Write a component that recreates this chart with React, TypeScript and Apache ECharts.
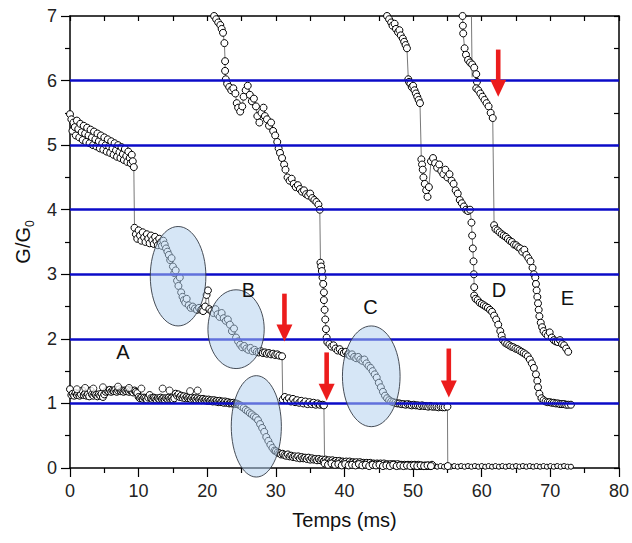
import React, { useEffect, useRef } from "react";
import * as echarts from "echarts";

// ---------- data (Temps in ms, G/G0) ----------
const traceA1: number[][] = [
  [0, 5.48], [0.2, 5.4], [0.35, 5.22], [0.5, 5.35], [0.7, 5.28], [0.85, 5.15], [1.0, 5.38], [1.2, 5.25], [1.35, 5.12], [1.5, 5.33],
  [1.7, 5.2], [1.85, 5.08], [2.0, 5.3], [2.2, 5.18], [2.35, 5.05], [2.5, 5.27], [2.7, 5.15], [2.85, 5.03], [3.0, 5.24], [3.2, 5.12],
  [3.35, 5.0], [3.5, 5.21], [3.7, 5.09], [3.85, 4.98], [4.0, 5.18], [4.2, 5.06], [4.35, 4.95], [4.5, 5.15], [4.7, 5.03], [4.85, 4.93],
  [5.0, 5.12], [5.2, 5.0], [5.35, 4.9], [5.5, 5.09], [5.7, 4.98], [5.85, 4.88], [6.0, 5.06], [6.2, 4.95], [6.35, 4.85], [6.5, 5.03],
  [6.7, 4.92], [6.85, 4.82], [7.0, 5.0], [7.2, 4.89], [7.35, 4.8], [7.5, 4.97], [7.7, 4.86], [7.85, 4.77], [8.0, 4.94], [8.2, 4.83],
  [8.35, 4.74], [8.5, 4.9], [8.7, 4.8], [8.85, 4.72], [9.0, 4.85], [9.15, 4.75], [9.3, 4.66],
  [9.4, 3.72], [9.6, 3.62], [9.8, 3.55], [10.0, 3.68], [10.2, 3.6], [10.4, 3.52], [10.6, 3.65], [10.8, 3.57], [11.0, 3.5], [11.2, 3.62],
  [11.4, 3.55], [11.6, 3.48], [11.8, 3.6], [12.0, 3.53], [12.2, 3.47], [12.4, 3.58], [12.6, 3.51], [12.8, 3.45], [13.0, 3.55], [13.2, 3.49],
  [13.4, 3.44], [13.6, 3.52], [13.8, 3.46], [14.0, 3.4], [14.2, 3.35], [14.4, 3.3], [14.6, 3.22], [14.8, 3.25], [15.0, 3.12], [15.2, 3.02],
  [15.4, 3.06], [15.6, 2.9], [15.8, 2.82], [16.0, 2.95], [16.2, 2.72], [16.4, 2.65], [16.6, 2.6], [16.8, 2.56], [17.0, 2.62], [17.3, 2.52],
  [17.6, 2.48], [17.9, 2.5], [18.2, 2.47], [18.5, 2.45], [18.8, 2.48], [19.1, 2.45], [19.4, 2.43], [19.7, 2.5], [19.9, 2.68], [20.1, 2.75],
  [20.3, 2.46], [20.6, 2.43], [20.9, 2.4], [21.2, 2.46], [21.5, 2.38], [21.8, 2.34], [22.1, 2.4], [22.4, 2.32], [22.7, 2.28], [23.0, 2.3],
  [23.3, 2.22], [23.6, 2.12], [23.9, 2.16], [24.2, 2.02], [24.5, 1.96], [24.8, 1.91], [25.1, 1.87], [25.4, 1.89], [25.7, 1.85], [26.0, 1.83],
  [26.3, 1.86], [26.6, 1.81], [26.9, 1.83], [27.2, 1.8], [27.5, 1.79], [27.8, 1.81], [28.1, 1.78], [28.4, 1.79], [28.7, 1.77], [29.0, 1.78],
  [29.3, 1.76], [29.6, 1.77], [29.9, 1.75], [30.2, 1.76], [30.5, 1.74], [30.9, 1.73],
  [31.0, 1.06], [31.3, 1.1], [31.6, 1.05], [31.9, 1.08], [32.2, 1.03], [32.5, 1.07], [32.8, 1.02], [33.1, 1.05], [33.4, 1.01], [33.7, 1.04],
  [34.0, 1.0], [34.3, 1.03], [34.6, 0.99], [34.9, 1.02], [35.2, 0.99], [35.5, 1.01], [35.8, 0.98], [36.1, 1.0], [36.4, 0.98], [36.8, 0.98], [37.0, 0.97],
  [37.1, 0.07], [37.6, 0.05], [38.1, 0.07], [38.6, 0.05], [39.1, 0.06], [39.6, 0.04], [40.1, 0.06], [40.6, 0.04], [41.1, 0.05], [41.6, 0.04],
  [42.1, 0.06], [42.6, 0.04], [43.1, 0.05], [43.6, 0.03], [44.1, 0.05], [44.6, 0.04], [45.1, 0.05], [45.6, 0.03], [46.1, 0.04], [46.6, 0.03],
  [47.1, 0.05], [47.6, 0.03], [48.1, 0.04], [48.6, 0.03], [49.1, 0.04], [49.6, 0.03], [50.1, 0.04], [50.6, 0.03], [51.1, 0.04], [51.6, 0.03],
  [52.1, 0.04], [52.6, 0.03],
];

const traceA2: number[][] = [
  [0, 1.22], [0.2, 1.13], [0.4, 1.15], [0.6, 1.12], [0.8, 1.16], [1.0, 1.13], [1.2, 1.15], [1.4, 1.12], [1.6, 1.14], [1.8, 1.2],
  [2.0, 1.13], [2.2, 1.15], [2.4, 1.12], [2.6, 1.14], [2.8, 1.11], [3.0, 1.2], [3.2, 1.14], [3.4, 1.12], [3.6, 1.15], [3.8, 1.13],
  [4.0, 1.11], [4.2, 1.14], [4.4, 1.12], [4.6, 1.15], [4.8, 1.1], [5.0, 1.14],
  [5.2, 1.18], [5.4, 1.2], [5.6, 1.19], [5.8, 1.21], [6.0, 1.18], [6.2, 1.2], [6.4, 1.19], [6.6, 1.21], [6.8, 1.18], [7.0, 1.2],
  [7.2, 1.22], [7.4, 1.19], [7.6, 1.2], [7.8, 1.18], [8.0, 1.2], [8.2, 1.19], [8.4, 1.21], [8.6, 1.18], [8.8, 1.2], [9.0, 1.19],
  [9.2, 1.17], [9.4, 1.2], [9.6, 1.18], [9.8, 1.16],
  [10.0, 1.1], [10.2, 1.08], [10.4, 1.09], [10.6, 1.07], [10.8, 1.09], [11.0, 1.08], [11.2, 1.06], [11.4, 1.09], [11.6, 1.13], [11.8, 1.08],
  [12.0, 1.07], [12.2, 1.09], [12.4, 1.08], [12.6, 1.06], [12.8, 1.08], [13.0, 1.07], [13.2, 1.09], [13.4, 1.07], [13.6, 1.08], [13.8, 1.06],
  [14.0, 1.08], [14.2, 1.07], [14.4, 1.09], [14.6, 1.07], [14.8, 1.08], [15.0, 1.06], [15.2, 1.08],
  [15.4, 1.15], [15.6, 1.12], [15.8, 1.14], [16.0, 1.1], [16.2, 1.12], [16.4, 1.09], [16.6, 1.11], [16.8, 1.08], [17.0, 1.1], [17.2, 1.08],
  [17.4, 1.09], [17.6, 1.07], [17.8, 1.09], [18.0, 1.07], [18.2, 1.08], [18.4, 1.06], [18.6, 1.08], [18.8, 1.06], [19.0, 1.07], [19.2, 1.05],
  [19.4, 1.07], [19.6, 1.05], [19.8, 1.06], [20.0, 1.04], [20.2, 1.06], [20.4, 1.04], [20.6, 1.05], [20.8, 1.03], [21.0, 1.05], [21.2, 1.03],
  [21.4, 1.04], [21.6, 1.02], [21.8, 1.04], [22.0, 1.02], [22.2, 1.03], [22.4, 1.01], [22.6, 1.03], [22.8, 1.01], [23.0, 1.02], [23.2, 1.0],
  [23.4, 1.01], [23.6, 1.0], [23.8, 1.01], [24.0, 0.99], [24.2, 1.0], [24.4, 0.99], [24.6, 0.98], [24.8, 0.97],
  [25.0, 0.95], [25.3, 0.93], [25.6, 0.9], [25.9, 0.88], [26.2, 0.85], [26.5, 0.83], [26.8, 0.8], [27.1, 0.78], [27.4, 0.74], [27.7, 0.68],
  [28.0, 0.62], [28.3, 0.56], [28.6, 0.48], [28.9, 0.42], [29.2, 0.36], [29.5, 0.31], [29.8, 0.27],
  [30.0, 0.26], [30.25, 0.24], [30.5, 0.23], [30.75, 0.21], [31.0, 0.22], [31.25, 0.2], [31.5, 0.19], [31.75, 0.21], [32.0, 0.18], [32.25, 0.19],
  [32.5, 0.17], [32.75, 0.18], [33.0, 0.16], [33.25, 0.18], [33.5, 0.15], [33.75, 0.17], [34.0, 0.15], [34.25, 0.16], [34.5, 0.14], [34.75, 0.16],
  [35.0, 0.13], [35.25, 0.15], [35.5, 0.13], [35.75, 0.14], [36.0, 0.12], [36.25, 0.14], [36.5, 0.12], [36.75, 0.13], [37.0, 0.11], [37.25, 0.13],
  [37.5, 0.11], [37.75, 0.12], [38.0, 0.1], [38.25, 0.12], [38.5, 0.1], [38.75, 0.11], [39.0, 0.09], [39.25, 0.11], [39.5, 0.09], [39.75, 0.1],
  [40.0, 0.09], [40.25, 0.1], [40.5, 0.08], [40.75, 0.1], [41.0, 0.08], [41.25, 0.09], [41.5, 0.08], [41.75, 0.09], [42.0, 0.07], [42.25, 0.09],
  [42.5, 0.07], [42.75, 0.08], [43.0, 0.07], [43.25, 0.08], [43.5, 0.06], [43.75, 0.08], [44.0, 0.06], [44.25, 0.07], [44.5, 0.06], [44.75, 0.07],
  [45.0, 0.06], [45.25, 0.07], [45.5, 0.05], [45.75, 0.07], [46.0, 0.05], [46.25, 0.06], [46.5, 0.05], [46.75, 0.06], [47.0, 0.05], [47.25, 0.06],
  [47.5, 0.04], [47.75, 0.06], [48.0, 0.04], [48.25, 0.05], [48.5, 0.04], [48.75, 0.05], [49.0, 0.04], [49.25, 0.05], [49.5, 0.04], [49.75, 0.05],
  [50.0, 0.03], [50.25, 0.05], [50.5, 0.03], [50.75, 0.05], [51.0, 0.03], [51.25, 0.04], [51.5, 0.03], [51.75, 0.04], [52.0, 0.03], [52.25, 0.04],
  [52.5, 0.03], [52.75, 0.05],
];

// isolated open circles floating just above the first plateau
const outliersA2: number[][] = [
  [1.0, 1.22], [2.2, 1.24], [3.4, 1.23], [4.8, 1.25], [7.0, 1.26], [8.6, 1.24], [10.4, 1.23], [13.5, 1.23], [14.5, 1.2], [17.5, 1.19], [18.6, 1.2],
];

const traceC1: number[][] = [
  [21.0, 7.0], [21.3, 6.95], [21.6, 6.9], [21.9, 6.86], [22.1, 6.8], [22.3, 6.74], [22.5, 6.58], [22.6, 6.3], [22.6, 6.15], [22.7, 6.02],
  [22.9, 5.95], [23.2, 5.9], [23.5, 5.85], [23.8, 5.88], [24.1, 5.8], [24.3, 5.65], [24.5, 5.58], [24.8, 5.52], [25.1, 5.6], [25.3, 5.75],
  [25.6, 5.85], [25.9, 5.92], [26.2, 5.78], [26.5, 5.68], [26.8, 5.72], [27.1, 5.6], [27.3, 5.45], [27.6, 5.35], [27.9, 5.5], [28.2, 5.58],
  [28.4, 5.45], [28.7, 5.4], [29.0, 5.3], [29.3, 5.35], [29.6, 5.22], [29.9, 5.15], [30.2, 5.05], [30.4, 4.95], [30.6, 4.88], [30.9, 4.8],
  [31.2, 4.7], [31.4, 4.62], [31.7, 4.5], [32.0, 4.45], [32.3, 4.48], [32.6, 4.4], [32.9, 4.35], [33.2, 4.38], [33.5, 4.32], [33.8, 4.28],
  [34.1, 4.3], [34.4, 4.24], [34.7, 4.22], [35.0, 4.25], [35.3, 4.18], [35.6, 4.15], [35.9, 4.12], [36.2, 4.08], [36.4, 4.0],
  [36.5, 3.18], [36.6, 3.12], [36.7, 3.05], [36.8, 2.95], [36.9, 2.85], [37.0, 2.72], [37.0, 2.6], [37.1, 2.45], [37.2, 2.3], [37.3, 2.15],
  [37.4, 2.02], [37.5, 1.95], [37.8, 1.92], [38.1, 1.88], [38.4, 1.9], [38.7, 1.85], [39.0, 1.82], [39.3, 1.84], [39.6, 1.8], [39.9, 1.78],
  [40.2, 1.8], [40.5, 1.76], [40.8, 1.74], [41.1, 1.76], [41.4, 1.72], [41.7, 1.7], [42.0, 1.72], [42.3, 1.68], [42.6, 1.66], [42.9, 1.68],
  [43.2, 1.62], [43.5, 1.58], [43.8, 1.55], [44.1, 1.5], [44.4, 1.45], [44.7, 1.4], [45.0, 1.32], [45.3, 1.25], [45.6, 1.18], [45.9, 1.12],
  [46.2, 1.08], [46.5, 1.05], [46.8, 1.03], [47.1, 1.02], [47.4, 1.01], [47.7, 1.0], [48.0, 1.0], [48.3, 0.99], [48.6, 0.99], [48.9, 0.98],
  [49.2, 0.99], [49.5, 0.98], [49.8, 0.97], [50.1, 0.98], [50.4, 0.97], [50.7, 0.97], [51.0, 0.96], [51.3, 0.97], [51.6, 0.96], [51.9, 0.96],
  [52.2, 0.95], [52.5, 0.96], [52.8, 0.95], [53.1, 0.95], [53.4, 0.95], [53.7, 0.94], [54.0, 0.95], [54.3, 0.94], [54.6, 0.94], [55.0, 0.95],
  [55.05, 0.03],
];

const traceD1: number[][] = [
  [46.2, 7.0], [46.5, 6.95], [46.8, 6.9], [47.0, 6.85], [47.3, 6.88], [47.5, 6.8], [47.8, 6.75], [48.0, 6.78], [48.2, 6.7], [48.5, 6.65],
  [48.7, 6.6], [48.9, 6.55], [49.1, 6.5],
  [49.3, 6.02], [49.4, 5.98], [49.6, 5.95], [49.8, 5.9], [50.0, 5.92], [50.2, 5.85], [50.4, 5.8], [50.6, 5.75], [50.8, 5.7], [51.0, 5.65],
  [51.2, 4.78], [51.3, 4.7], [51.4, 4.62], [51.5, 4.5], [51.7, 4.4], [51.9, 4.3], [52.1, 4.2], [52.3, 4.35], [52.6, 4.75], [52.9, 4.8],
  [53.2, 4.72], [53.5, 4.65], [53.8, 4.7], [54.1, 4.6], [54.4, 4.55], [54.7, 4.62], [55.0, 4.5], [55.3, 4.55], [55.6, 4.45], [55.9, 4.4],
  [56.2, 4.3], [56.5, 4.25], [56.8, 4.15], [57.1, 4.1], [57.4, 4.05], [57.7, 4.0], [58.0, 3.98], [58.3, 4.0], [58.5, 3.8], [58.6, 3.6],
  [58.7, 3.4], [58.8, 3.2], [58.85, 3.0], [58.9, 2.8], [58.9, 2.67],
  [59.1, 2.62], [59.4, 2.6], [59.7, 2.56], [60.0, 2.54], [60.3, 2.52], [60.6, 2.5], [60.9, 2.48], [61.2, 2.45], [61.5, 2.42], [61.8, 2.36],
  [62.1, 2.3], [62.4, 2.22], [62.7, 2.12], [62.9, 2.05], [63.1, 1.98], [63.4, 1.94], [63.7, 1.92], [64.0, 1.9], [64.3, 1.88], [64.6, 1.87],
  [64.9, 1.85], [65.2, 1.84], [65.5, 1.82], [65.8, 1.8], [66.1, 1.78], [66.4, 1.76], [66.7, 1.73], [67.0, 1.68], [67.3, 1.62], [67.6, 1.55],
  [67.9, 1.45], [68.1, 1.35], [68.2, 1.25], [68.4, 1.15], [68.7, 1.08], [69.0, 1.05], [69.3, 1.03], [69.6, 1.02], [69.9, 1.02], [70.2, 1.01],
  [70.5, 1.01], [70.8, 1.0], [71.1, 1.0], [71.4, 0.99], [71.7, 0.99], [72.0, 0.99], [72.3, 0.98], [72.6, 0.98], [73.0, 0.98],
];

const traceE1: number[][] = [
  [57.2, 7.0], [57.25, 6.85], [57.3, 6.73], [57.5, 6.5], [57.7, 6.4], [58.0, 6.32], [58.3, 6.28], [58.6, 6.25], [58.9, 6.2], [59.2, 6.1],
  [59.3, 5.98], [59.2, 5.88], [59.5, 5.85], [59.8, 5.8], [60.1, 5.75], [60.4, 5.7], [60.7, 5.65], [61.0, 5.6], [61.3, 5.5], [61.6, 5.42],
  [61.8, 3.76], [62.0, 3.7], [62.3, 3.68], [62.6, 3.65], [62.9, 3.62], [63.2, 3.6], [63.5, 3.58], [63.8, 3.55], [64.1, 3.52], [64.4, 3.5],
  [64.7, 3.46], [65.0, 3.45], [65.3, 3.42], [65.6, 3.4], [65.9, 3.35], [66.2, 3.38], [66.5, 3.3], [66.8, 3.25], [67.1, 3.2], [67.4, 3.1],
  [67.6, 3.0], [67.8, 2.95], [67.9, 2.85], [68.0, 2.75], [68.1, 2.65], [68.2, 2.55], [68.3, 2.45], [68.4, 2.35], [68.6, 2.25], [68.8, 2.18],
  [69.0, 2.12], [69.3, 2.08], [69.6, 2.05], [69.9, 2.1], [70.2, 2.02], [70.5, 1.98], [70.8, 1.96], [71.1, 1.95], [71.4, 1.98], [71.7, 1.92],
  [72.0, 1.9], [72.3, 1.85], [72.6, 1.8],
];

const traceTopLine: number[][] = [[58.5, 7.0], [58.6, 6.05]];

const traceTail: number[][] = [
  [53.0, 0.04], [53.5, 0.02], [54.0, 0.03], [54.5, 0.02], [55.0, 0.03], [55.5, 0.02], [56.0, 0.03], [56.5, 0.02], [57.0, 0.03], [57.5, 0.02],
  [58.0, 0.03], [58.5, 0.02], [59.0, 0.03], [59.5, 0.02], [60.0, 0.03], [60.5, 0.02], [61.0, 0.03], [61.5, 0.02], [62.0, 0.03], [62.5, 0.02],
  [63.0, 0.03], [63.5, 0.02], [64.0, 0.03], [64.5, 0.02], [65.0, 0.03], [65.5, 0.02], [66.0, 0.03], [66.5, 0.02], [67.0, 0.03], [67.5, 0.02],
  [68.0, 0.03], [68.5, 0.02], [69.0, 0.03], [69.5, 0.02], [70.0, 0.03], [70.5, 0.02], [71.0, 0.03], [71.5, 0.02], [72.0, 0.03], [72.5, 0.02],
  [73.0, 0.02],
];

// horizontal quantised-conductance levels
const blueLevels: number[] = [1, 2, 3, 4, 5, 6];

// annotations: ellipses [cx, cy, rx, ry], arrows [x, yTop, yTip], letters [text, x, y]
const ellipses: number[][] = [
  [15.75, 2.97, 4.05, 0.77],
  [24.2, 2.15, 4.1, 0.61],
  [27.15, 0.645, 3.65, 0.785],
  [43.9, 1.42, 4.2, 0.78],
];
const arrows: number[][] = [
  [31.25, 2.7, 1.96],
  [37.4, 1.79, 1.04],
  [55.2, 1.85, 1.09],
  [62.4, 6.48, 5.75],
];
const letters: (string | number)[][] = [
  ["A", 7.7, 1.79],
  ["B", 26.0, 2.75],
  ["C", 43.8, 2.5],
  ["D", 62.5, 2.76],
  ["E", 72.5, 2.64],
];

const xMin = 0, xMax = 80, xStep = 10;
const yMin = 0, yMax = 7, yStep = 1;

const FONT = "Arial, 'Liberation Sans', sans-serif";

export default function App() {
  const ref = useRef<HTMLDivElement>(null);

  useEffect(() => {
    const chart = echarts.init(ref.current!, null, { renderer: "svg" });

    const pointSeries = (data: number[][], size = 7) => ({
      type: "line",
      data,
      symbol: "circle",
      symbolSize: size,
      showSymbol: true,
      itemStyle: { color: "#ffffff", borderColor: "#000000", borderWidth: 1 },
      lineStyle: { color: "#555555", width: 0.8 },
      emphasis: { disabled: true },
      silent: true,
      z: 3,
    });

    const option: any = {
      animation: false,
      backgroundColor: "#ffffff",
      grid: { left: 70, right: 8, top: 16, bottom: 75 },
      xAxis: [
        {
          type: "value",
          min: xMin,
          max: xMax,
          interval: xStep,
          name: "Temps (ms)",
          nameLocation: "middle",
          nameGap: 42,
          nameTextStyle: { fontSize: 20, color: "#111", fontFamily: FONT },
          axisLine: { show: true, onZero: false, lineStyle: { color: "#000", width: 1.5 } },
          axisTick: { show: true, inside: false, length: 9, lineStyle: { color: "#000", width: 1.2 } },
          minorTick: { show: true, splitNumber: 2, length: 5, lineStyle: { color: "#000", width: 1.2 } },
          axisLabel: { fontSize: 18, color: "#222", fontFamily: FONT, margin: 14 },
          splitLine: { show: false },
        },
        {
          type: "value",
          position: "top",
          min: xMin,
          max: xMax,
          interval: 5,
          axisLine: { show: true, onZero: false, lineStyle: { color: "#000", width: 1.5 } },
          axisTick: { show: true, inside: true, length: 5, lineStyle: { color: "#000", width: 1.2 } },
          axisLabel: { show: false },
          splitLine: { show: false },
        },
      ],
      yAxis: [
        {
          type: "value",
          min: yMin,
          max: yMax,
          interval: yStep,
          name: "G/G{sub|0}",
          nameLocation: "middle",
          nameGap: 33,
          nameTextStyle: {
            fontSize: 20,
            color: "#111",
            fontFamily: FONT,
            rich: { sub: { fontSize: 12, color: "#111", fontFamily: FONT, padding: [14, 0, 0, 0] } },
          },
          axisLine: { show: true, onZero: false, lineStyle: { color: "#000", width: 1.5 } },
          axisTick: { show: true, inside: false, length: 9, lineStyle: { color: "#000", width: 1.2 } },
          minorTick: { show: true, splitNumber: 2, length: 5, lineStyle: { color: "#000", width: 1.2 } },
          axisLabel: { fontSize: 18, color: "#222", fontFamily: FONT, margin: 13 },
          splitLine: { show: false },
        },
        {
          type: "value",
          position: "right",
          min: yMin,
          max: yMax,
          interval: 0.5,
          axisLine: { show: true, onZero: false, lineStyle: { color: "#000", width: 1.5 } },
          axisTick: { show: true, inside: true, length: 5, lineStyle: { color: "#000", width: 1.2 } },
          axisLabel: { show: false },
          splitLine: { show: false },
        },
      ],
      series: [
        {
          type: "line",
          data: [],
          silent: true,
          z: 1,
          markLine: {
            silent: true,
            symbol: ["none", "none"],
            label: { show: false },
            lineStyle: { color: "#0b0bc8", width: 2.6, type: "solid" },
            emphasis: { disabled: true },
            data: blueLevels.map((v) => ({ yAxis: v })),
          },
        },
        {
          type: "line",
          data: traceTopLine,
          showSymbol: false,
          symbol: "none",
          lineStyle: { color: "#555555", width: 0.8 },
          silent: true,
          z: 2,
        },
        pointSeries(traceTail, 5),
        pointSeries(traceA2),
        {
          type: "scatter",
          data: outliersA2,
          symbol: "circle",
          symbolSize: 7,
          itemStyle: { color: "#ffffff", borderColor: "#000000", borderWidth: 1 },
          silent: true,
          z: 3,
        },
        pointSeries(traceA1),
        pointSeries(traceC1),
        pointSeries(traceD1),
        pointSeries(traceE1),
        {
          type: "custom",
          data: ellipses,
          clip: false,
          silent: true,
          z: 5,
          encode: { x: 0, y: 1 },
          renderItem: (_p: any, api: any) => {
            const c = api.coord([api.value(0), api.value(1)]);
            const s = api.size([api.value(2), api.value(3)]);
            return {
              type: "ellipse",
              shape: { cx: c[0], cy: c[1], rx: s[0], ry: s[1] },
              style: { fill: "rgba(176,208,238,0.52)", stroke: "#333a44", lineWidth: 0.9 },
            };
          },
        },
        {
          type: "custom",
          data: arrows,
          clip: false,
          silent: true,
          z: 6,
          encode: { x: 0, y: [1, 2] },
          renderItem: (_p: any, api: any) => {
            const top = api.coord([api.value(0), api.value(1)]);
            const tip = api.coord([api.value(0), api.value(2)]);
            const headLen = 17;
            const headW = 8;
            const shaftW = 2.3;
            return {
              type: "group",
              children: [
                {
                  type: "rect",
                  shape: { x: top[0] - shaftW, y: top[1], width: shaftW * 2, height: tip[1] - headLen - top[1] + 1 },
                  style: { fill: "#ec1c1c" },
                },
                {
                  type: "polygon",
                  shape: { points: [[tip[0] - headW, tip[1] - headLen], [tip[0] + headW, tip[1] - headLen], [tip[0], tip[1]]] },
                  style: { fill: "#ec1c1c" },
                },
              ],
            };
          },
        },
        {
          type: "custom",
          data: letters.map((l) => [l[1], l[2], l[0]]),
          clip: false,
          silent: true,
          z: 7,
          encode: { x: 0, y: 1 },
          renderItem: (p: any, api: any) => {
            const c = api.coord([api.value(0), api.value(1)]);
            const txt = letters[p.dataIndex][0] as string;
            return {
              type: "text",
              x: c[0],
              y: c[1],
              style: {
                text: txt,
                fill: "#111",
                fontSize: 20,
                fontFamily: FONT,
                align: "center",
                verticalAlign: "middle",
              },
            };
          },
        },
      ],
    };

    chart.setOption(option);
    return () => chart.dispose();
  }, []);

  return (
    <div
      ref={ref}
      style={{ position: "fixed", left: 0, top: 0, width: 632, height: 543, background: "#fff" }}
    />
  );
}
